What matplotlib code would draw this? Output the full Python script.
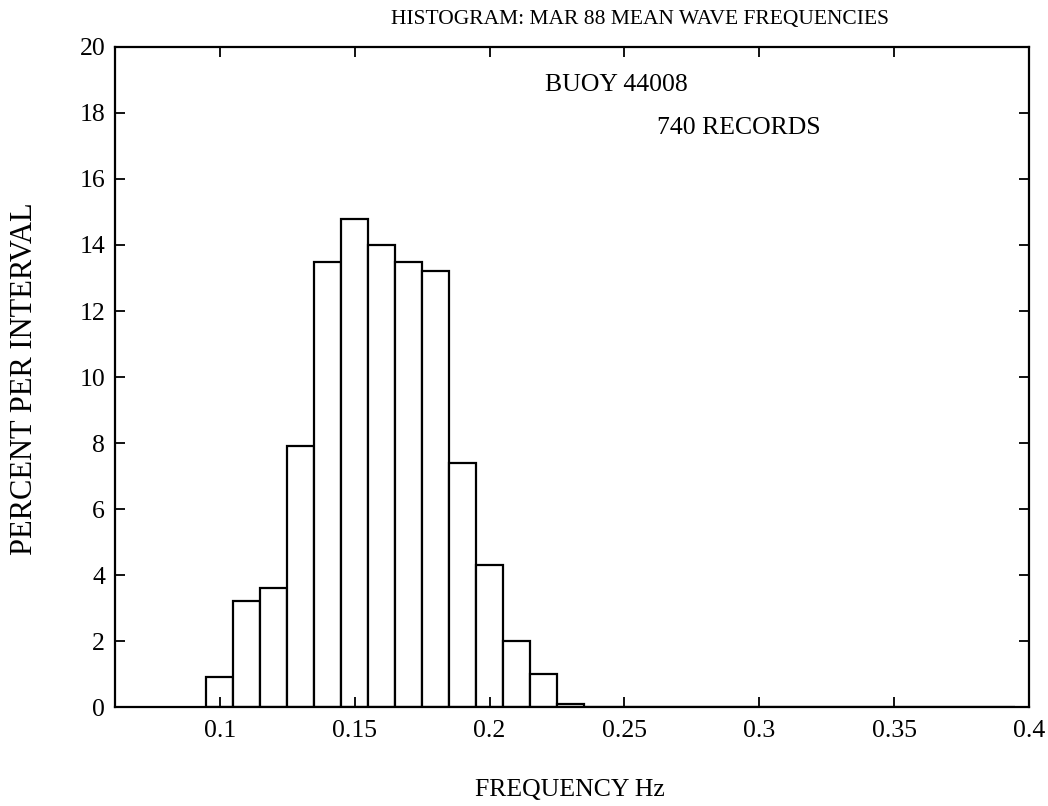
import matplotlib
matplotlib.use("Agg")
import matplotlib.pyplot as plt
import numpy as np

# bin centres (Hz) and percent per interval
bin_centers = [0.10, 0.11, 0.12, 0.13, 0.14, 0.15, 0.16, 0.17, 0.18, 0.19,
               0.20, 0.21, 0.22, 0.23, 0.24, 0.25, 0.26, 0.27, 0.28, 0.29,
               0.30, 0.31, 0.32, 0.33, 0.34, 0.35, 0.36, 0.37, 0.38, 0.39]
percent = [0.9, 3.2, 3.6, 7.9, 13.5, 14.8, 14.0, 13.5, 13.2, 7.4,
           4.3, 2.0, 1.0, 0.1, 0, 0, 0, 0, 0, 0,
           0, 0, 0, 0, 0, 0, 0, 0, 0, 0]
x_ticks = [0.1, 0.15, 0.2, 0.25, 0.3, 0.35, 0.4]
x_tick_labels = ["0.1", "0.15", "0.2", "0.25", "0.3", "0.35", "0.4"]
y_ticks = [0, 2, 4, 6, 8, 10, 12, 14, 16, 18, 20]

plt.rcParams['font.family'] = ['Liberation Serif', 'DejaVu Serif']

fig = plt.figure(figsize=(10.48, 8.06), dpi=100)
ax = fig.add_axes([0.1097, 0.1228, 0.8721, 0.8189])

ax.bar(bin_centers, percent, width=0.01, align='center',
       facecolor='white', edgecolor='black', linewidth=1.6)

ax.set_xlim(0.0611, 0.4)
ax.set_ylim(0, 20)
ax.set_xticks(x_ticks)
ax.set_xticklabels(x_tick_labels)
ax.set_yticks(y_ticks)
ax.tick_params(direction='in', length=7, width=1.3, labelsize=18.5,
               top=True, right=True)
ax.tick_params(axis='x', pad=9)
ax.tick_params(axis='y', pad=7)
for s in ax.spines.values():
    s.set_linewidth(1.6)

fig.text(0.611, 0.976, "HISTOGRAM: MAR 88 MEAN WAVE FREQUENCIES",
         ha='center', va='center', fontsize=15.5)
fig.text(0.544, 0.02, "FREQUENCY Hz", ha='center', va='center', fontsize=18.5)
fig.text(0.023, 0.53, "PERCENT PER INTERVAL", ha='center', va='center',
         rotation=90, fontsize=22)

ax.text(0.2205, 18.85, "BUOY 44008", ha='left', va='center', fontsize=18.5)
ax.text(0.262, 17.55, "740 RECORDS", ha='left', va='center', fontsize=18.5)

fig.savefig("out.png", dpi=100, facecolor='white')
